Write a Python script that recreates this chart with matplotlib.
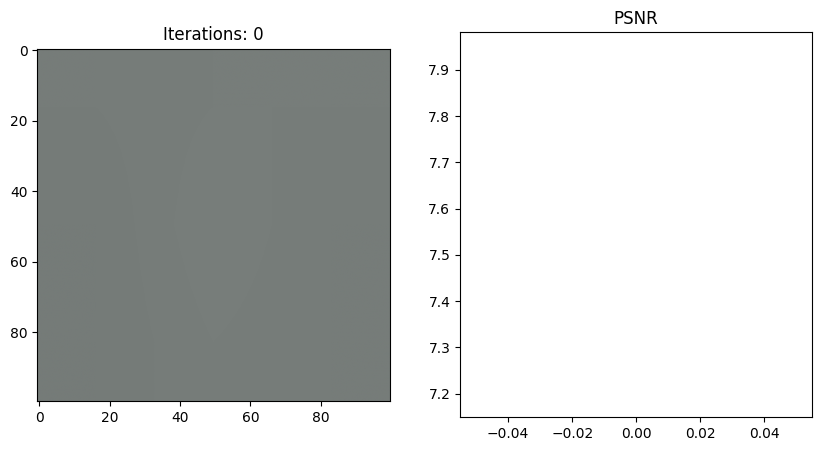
import matplotlib
matplotlib.use('Agg')
import matplotlib.pyplot as plt
import numpy as np

# TRAINING STATE AT ITERATION 0
iteration = 0
iternums = [0]
psnrs = [7.565]

# RENDERED IMAGE (COARSE RGB SAMPLES, 0-255)
img_rows = [
    [[118, 124, 121], [119, 125, 122], [119, 125, 122]],
    [[117, 123, 120], [120, 126, 123], [118, 124, 121]],
    [[117, 123, 120], [119, 125, 122], [118, 124, 121]],
]
IMG_SIZE = 100

rgb = np.array(img_rows, dtype=float) / 255.0

plt.figure(figsize=(10, 5))
plt.subplot(121)
plt.imshow(rgb, interpolation='bilinear',
           extent=(-0.5, IMG_SIZE - 0.5, IMG_SIZE - 0.5, -0.5))
plt.title(f'Iterations: {iteration}')
plt.subplot(122)
plt.plot(iternums, psnrs)
plt.title('PSNR')
plt.savefig('out.png', bbox_inches='tight')
